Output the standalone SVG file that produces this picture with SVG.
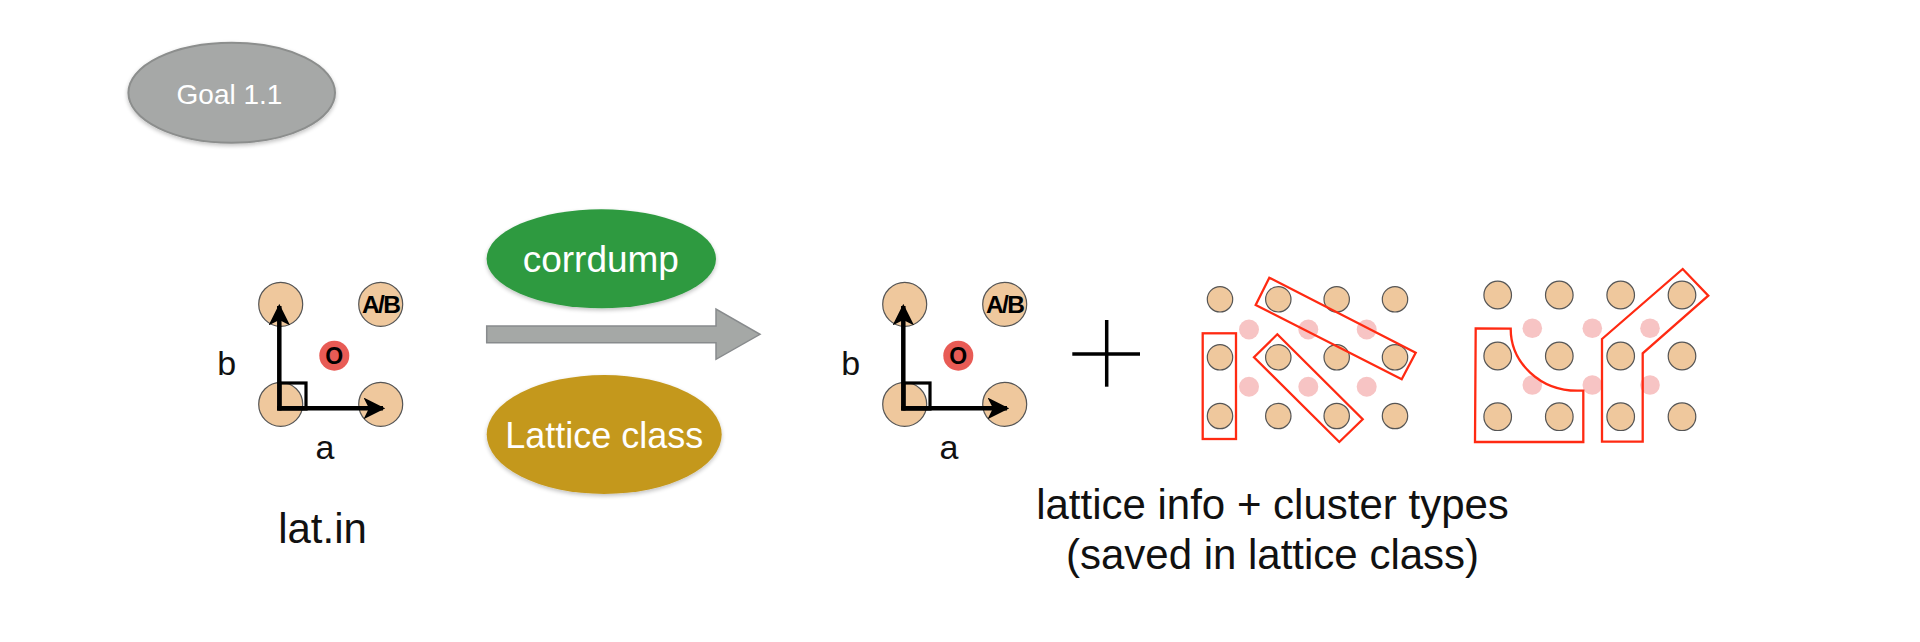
<svg xmlns="http://www.w3.org/2000/svg" width="1920" height="642" viewBox="0 0 1920 642">
<style>
text{font-family:"Liberation Sans","Helvetica Neue",Arial,sans-serif;}
.lbl{fill:#111;font-size:34px;}
.big{fill:#111;font-size:42px;text-anchor:middle;}
.wt{fill:#fff;text-anchor:middle;}
.site{fill:#efc89d;stroke:#555;stroke-width:1.2;}
.pink{fill:#f7c4c4;}
.clu{fill:none;stroke:#ff2a12;stroke-width:2.3;stroke-linejoin:miter;}
.axis{fill:none;stroke:#000;stroke-width:4.5;}
.bold{font-weight:bold;fill:#000;text-anchor:middle;}
</style>
<defs>
<filter id="sh" x="-10%" y="-10%" width="120%" height="125%">
<feGaussianBlur in="SourceAlpha" stdDeviation="2"/>
<feOffset dx="0" dy="2" result="b"/>
<feComponentTransfer><feFuncA type="linear" slope="0.25"/></feComponentTransfer>
<feMerge><feMergeNode/><feMergeNode in="SourceGraphic"/></feMerge>
</filter>
<marker id="ah" viewBox="0 0 10 10" refX="9" refY="5" markerWidth="4.8" markerHeight="4.8" orient="auto" markerUnits="strokeWidth">
<path d="M0,0 L10,5 L0,10 L2.5,5 Z" fill="#000"/>
</marker>
<g id="latticeCell">
<circle class="site" cx="280.7" cy="304.3" r="22"/>
<circle class="site" cx="380.7" cy="304.3" r="22"/>
<circle class="site" cx="280.7" cy="404.3" r="22"/>
<circle class="site" cx="380.7" cy="404.3" r="22"/>
<text class="bold" x="380.7" y="313.3" font-size="24.5" letter-spacing="-1.6">A/B</text>
<circle cx="334.3" cy="355.7" r="15" fill="#e85b55"/>
<text class="bold" x="334.3" y="364" font-size="23">O</text>
<rect x="280" y="383" width="26" height="26" fill="none" stroke="#000" stroke-width="3.2"/>
<path class="axis" d="M279.3,410.5 L279.3,306" marker-end="url(#ah)"/>
<path class="axis" d="M277,408.3 L383,408.3" marker-end="url(#ah)"/>
<text class="lbl" x="226.7" y="375" text-anchor="middle">b</text>
<text class="lbl" x="325" y="459.3" text-anchor="middle">a</text>
</g>
</defs>

<g id="goal">
<ellipse cx="231.7" cy="92.7" rx="103.3" ry="50" fill="#a6a8a7" stroke="#8c8e8d" stroke-width="2" filter="url(#sh)"/>
<text class="wt" x="229.5" y="104.3" font-size="28">Goal 1.1</text>
</g>

<g id="latin">
<use href="#latticeCell"/>
<text class="big" x="322.5" y="543.3" font-size="40">lat.in</text>
</g>

<g id="corrdump">
<ellipse cx="601.3" cy="258.8" rx="114.7" ry="49.5" fill="#2f9a41" filter="url(#sh)"/>
<text class="wt" x="600.8" y="271.7" font-size="37">corrdump</text>
</g>

<g id="latticeclass">
<ellipse cx="604.2" cy="434.5" rx="117.5" ry="59.5" fill="#c4981e" filter="url(#sh)"/>
<text class="wt" x="604.2" y="447.7" font-size="36">Lattice class</text>
</g>

<g id="connectors">
<path d="M486.7,326 L716,326 L716,309 L760,334.3 L716,359.3 L716,342.7 L486.7,342.7 Z" fill="#a5a8a6" stroke="#888b8d" stroke-width="1.5"/>
</g>

<g id="output">
<use href="#latticeCell" transform="translate(624,0)"/>
<g id="plus">
<line x1="1072.3" y1="354" x2="1140" y2="354" stroke="#000" stroke-width="3.5"/>
<line x1="1106.7" y1="320" x2="1106.7" y2="386.7" stroke="#000" stroke-width="3.5"/>
</g>
<g id="clusters1">
<circle class="pink" cx="1249" cy="329.5" r="10"/>
<circle class="pink" cx="1308.3" cy="329.5" r="10"/>
<circle class="pink" cx="1366.7" cy="329.5" r="10"/>
<circle class="pink" cx="1249" cy="386.7" r="10"/>
<circle class="pink" cx="1308.3" cy="386.7" r="10"/>
<circle class="pink" cx="1366.7" cy="386.7" r="10"/>
<circle class="site" cx="1220" cy="299.3" r="12.7"/>
<circle class="site" cx="1278.3" cy="299.3" r="12.7"/>
<circle class="site" cx="1336.7" cy="299.3" r="12.7"/>
<circle class="site" cx="1395" cy="299.3" r="12.7"/>
<circle class="site" cx="1220" cy="357.3" r="12.7"/>
<circle class="site" cx="1278.3" cy="357.3" r="12.7"/>
<circle class="site" cx="1336.7" cy="357.3" r="12.7"/>
<circle class="site" cx="1395" cy="357.3" r="12.7"/>
<circle class="site" cx="1220" cy="416" r="12.7"/>
<circle class="site" cx="1278.3" cy="416" r="12.7"/>
<circle class="site" cx="1336.7" cy="416" r="12.7"/>
<circle class="site" cx="1395" cy="416" r="12.7"/>
<rect class="clu" x="1202.7" y="333.3" width="33.3" height="105.7"/>
<polygon class="clu" points="1269.3,277.7 1415.7,352.7 1401.7,379.3 1255.7,305"/>
<polygon class="clu" points="1277.3,334.3 1362.7,419.3 1339.3,442 1254,357.3"/>
</g>
<g id="clusters2">
<circle class="pink" cx="1532.3" cy="328.3" r="9.8"/>
<circle class="pink" cx="1592.3" cy="328.3" r="9.8"/>
<circle class="pink" cx="1650" cy="328.3" r="9.8"/>
<circle class="pink" cx="1532.3" cy="385" r="9.8"/>
<circle class="pink" cx="1592.3" cy="385" r="9.8"/>
<circle class="pink" cx="1650" cy="385" r="9.8"/>
<circle class="site" cx="1497.7" cy="295" r="13.8"/>
<circle class="site" cx="1559.3" cy="295" r="13.8"/>
<circle class="site" cx="1620.7" cy="295" r="13.8"/>
<circle class="site" cx="1682" cy="295" r="13.8"/>
<circle class="site" cx="1497.7" cy="356" r="13.8"/>
<circle class="site" cx="1559.3" cy="356" r="13.8"/>
<circle class="site" cx="1620.7" cy="356" r="13.8"/>
<circle class="site" cx="1682" cy="356" r="13.8"/>
<circle class="site" cx="1497.7" cy="416.7" r="13.8"/>
<circle class="site" cx="1559.3" cy="416.7" r="13.8"/>
<circle class="site" cx="1620.7" cy="416.7" r="13.8"/>
<circle class="site" cx="1682" cy="416.7" r="13.8"/>
<path class="clu" d="M1475.7,328.3 L1510.7,328.7 A66.5 62 0 0 0 1577.2,390.7 L1583.3,390.7 L1583.3,442 L1475,442 Z"/>
<polygon class="clu" points="1602,339 1682.7,269 1708.3,295.7 1642.7,353.3 1642.7,441.7 1602,441.7"/>
</g>
<text class="big" x="1272.5" y="519.3">lattice info + cluster types</text>
<text class="big" x="1272.5" y="569.3">(saved in lattice class)</text>
</g>
</svg>
